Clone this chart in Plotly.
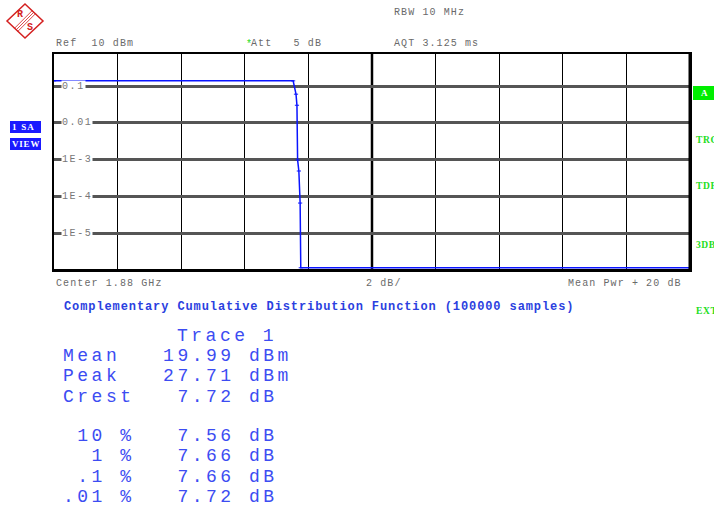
import math
import plotly.graph_objects as go

# CCDF trace (x in dB above mean power, y = probability)
ccdf_db = [0, 7.52, 7.61, 7.64, 7.66, 7.70, 7.74, 7.76, 20]
ccdf_prob = [0.138, 0.138, 0.060, 0.030, 9.8e-4, 4.9e-4, 6.6e-5, 1.15e-6, 1.15e-6]

ytick_vals = [0.1, 0.01, 1e-3, 1e-4, 1e-5]
ytick_text = ["0.1", "0.01", "1E-3", "1E-4", "1E-5"]

header_top = "RBW 10 MHz"
header_left = "Ref  10 dBm"
header_att = "Att   5 dB"
header_aqt = "AQT 3.125 ms"
footer_left = "Center 1.88 GHz"
footer_mid = "2 dB/"
footer_right = "Mean Pwr + 20 dB"
title_text = "Complementary Cumulative Distribution Function (100000 samples)"

table_head = "Trace 1"
stat_names = ["Mean", "Peak", "Crest"]
stat_values = ["19.99", "27.71", "7.72"]
stat_units = ["dBm", "dBm", "dB"]
pct_levels = ["10", "1", ".1", ".01"]
pct_values = ["7.56", "7.66", "7.66", "7.72"]

side_labels = ["TRG", "TDF", "3DB", "EXT"]

W, H = 714, 508
L, R, T, B = 54, 24, 54, 238
PW, PH = W - L - R, H - T - B

BLUE = "#3c4cf2"
GRAY = "#6a6a6a"
GREEN = "#22dd22"
MONO = "Liberation Mono, DejaVu Sans Mono, monospace"
SERIF = "Liberation Serif, serif"


def px(x):
    return (x - L) / PW


def py(y):
    return (T + PH - y) / PH


def sp(text, ls):
    text = text.replace(" ", "\u00a0")
    return f'<span style="letter-spacing:{ls}px">{text}</span>'


fig = go.Figure()

fig.add_trace(go.Scatter(
    x=ccdf_db, y=ccdf_prob, mode="lines+markers",
    line=dict(color="#0a14ff", width=1.5),
    marker=dict(symbol="line-ew", size=3, line=dict(color="#0a14ff", width=1)),
    showlegend=False, hoverinfo="skip",
))

ann = []


def text(x, y, s, size, color, anchor="left", bold=False, family=MONO, **kw):
    if bold:
        s = f"<b>{s}</b>"
    ann.append(dict(x=px(x), y=py(y), xref="paper", yref="paper", text=s,
                    showarrow=False, xanchor=anchor, yanchor="middle",
                    font=dict(family=family, size=size, color=color), **kw))


# y tick labels inside the plot, white backing breaks the gridline
for v, t in zip(ytick_vals, ytick_text):
    yy = T + PH - (math.log10(v) + 6) / 5.87 * PH
    ann.append(dict(x=px(61), y=py(yy), xref="paper", yref="paper", text=sp(t, 1.6),
                    showarrow=False, xanchor="left", yanchor="middle", bgcolor="white",
                    borderpad=0, font=dict(family=MONO, size=10, color="#777")))

# header / footer
text(392, 13, sp(header_top, 1.1), 10, GRAY)
text(54, 43, sp(header_left, 1.1), 10, GRAY)
text(244, 45, "*", 10, GREEN)
text(249, 43, sp(header_att, 1.1), 10, GRAY)
text(392, 43, sp(header_aqt, 1.1), 10, GRAY)
text(54, 283, sp(footer_left, 1.1), 10, GRAY)
text(364, 283, sp(footer_mid, 1.1), 10, GRAY)
text(684, 283, sp(footer_right, 1.1), 10, GRAY, anchor="right")
text(62, 307, sp(title_text, 0.9), 12, "#2b3fe0", bold=True)

# result table
pitch = 14.3
x0 = 61
text(x0 + 8 * pitch, 336, sp(table_head, 3.5), 18, BLUE)
for i, (n, v, u) in enumerate(zip(stat_names, stat_values, stat_units)):
    row = f"{n:<6}{v:>6} {u}"
    text(x0, 356 + i * 20.4, sp(row, 3.5), 18, BLUE)
for i, (p, v) in enumerate(zip(pct_levels, pct_values)):
    row = f"{p:>3} %   {v} dB"
    text(x0, 436 + i * 20.3, sp(row, 3.5), 18, BLUE)

# side softkey labels
text(10, 127, sp("1 SA", 1.2), 9, "white", bold=True, family=SERIF)
text(10, 144, sp("VIEW", 0.8), 9, "white", bold=True, family=SERIF)
text(704, 93, "A", 9, "white", anchor="center", bold=True, family=SERIF)
for lab, yy in zip(side_labels, [140, 186, 245, 311]):
    text(694, yy, sp(lab, 0.6), 9.5, GREEN, bold=True, family=SERIF)

# R&S logo letters
text(20, 15, "R", 10, "#d42020", anchor="center", bold=True)
text(30, 28, "S", 10, "#d42020", anchor="center", bold=True)

shapes = []


def rect(x0_, y0_, x1_, y1_, fill):
    shapes.append(dict(type="rect", xref="paper", yref="paper", x0=px(x0_), x1=px(x1_),
                       y0=py(y0_), y1=py(y1_), fillcolor=fill, line=dict(width=0), layer="below"))


def seg(x0_, y0_, x1_, y1_, color, width, layer="above"):
    shapes.append(dict(type="line", xref="paper", yref="paper", x0=px(x0_), x1=px(x1_),
                       y0=py(y0_), y1=py(y1_), line=dict(color=color, width=width), layer=layer))


rect(10, 121, 41, 133, "#1a1aff")
rect(10, 138, 41, 150, "#1a1aff")
rect(693, 86, 714, 100, "#00ee00")

# logo diamond
dia = [(25, 4), (43, 21), (25, 38), (7, 21)]
path = "M " + " L ".join(f"{px(a)},{py(b)}" for a, b in dia) + " Z"
shapes.append(dict(type="path", xref="paper", yref="paper", path=path,
                   line=dict(color="#d42020", width=1.5)))
for d in (-1.6, 0, 1.6):
    seg(34 + d, 12 + d, 16 + d, 30 + d, "#d42020", 0.8)

# grid overrides
shapes.append(dict(type="line", xref="x", yref="paper", x0=10, x1=10, y0=0, y1=1,
                   line=dict(color="black", width=2.5), layer="below"))
shapes.append(dict(type="line", xref="paper", yref="y", x0=0, x1=1, y0=1e-4, y1=1e-4,
                   line=dict(color="black", width=2.5), layer="below"))
seg(54, 270.5, 690, 270.5, "black", 3)
seg(690, 54, 690, 271, "black", 3)

fig.update_layout(
    width=W, height=H,
    margin=dict(l=L, r=R, t=T, b=B),
    paper_bgcolor="white", plot_bgcolor="white",
    xaxis=dict(range=[0, 20], dtick=2, showgrid=True, gridcolor="black", gridwidth=1,
               showticklabels=False, ticks="", zeroline=False,
               showline=True, mirror=True, linecolor="black", linewidth=2),
    yaxis=dict(type="log", range=[-6, -0.13], dtick=1, showgrid=True,
               gridcolor="#555555", gridwidth=2.5, showticklabels=False, ticks="",
               zeroline=False, showline=True, mirror=True, linecolor="black", linewidth=2),
    annotations=ann, shapes=shapes,
)

# drop the default page margin so the figure sits at the window's top-left corner
fig.write_html("out.html", config={"displayModeBar": False},
               post_script="document.body.style.margin='0px';")
